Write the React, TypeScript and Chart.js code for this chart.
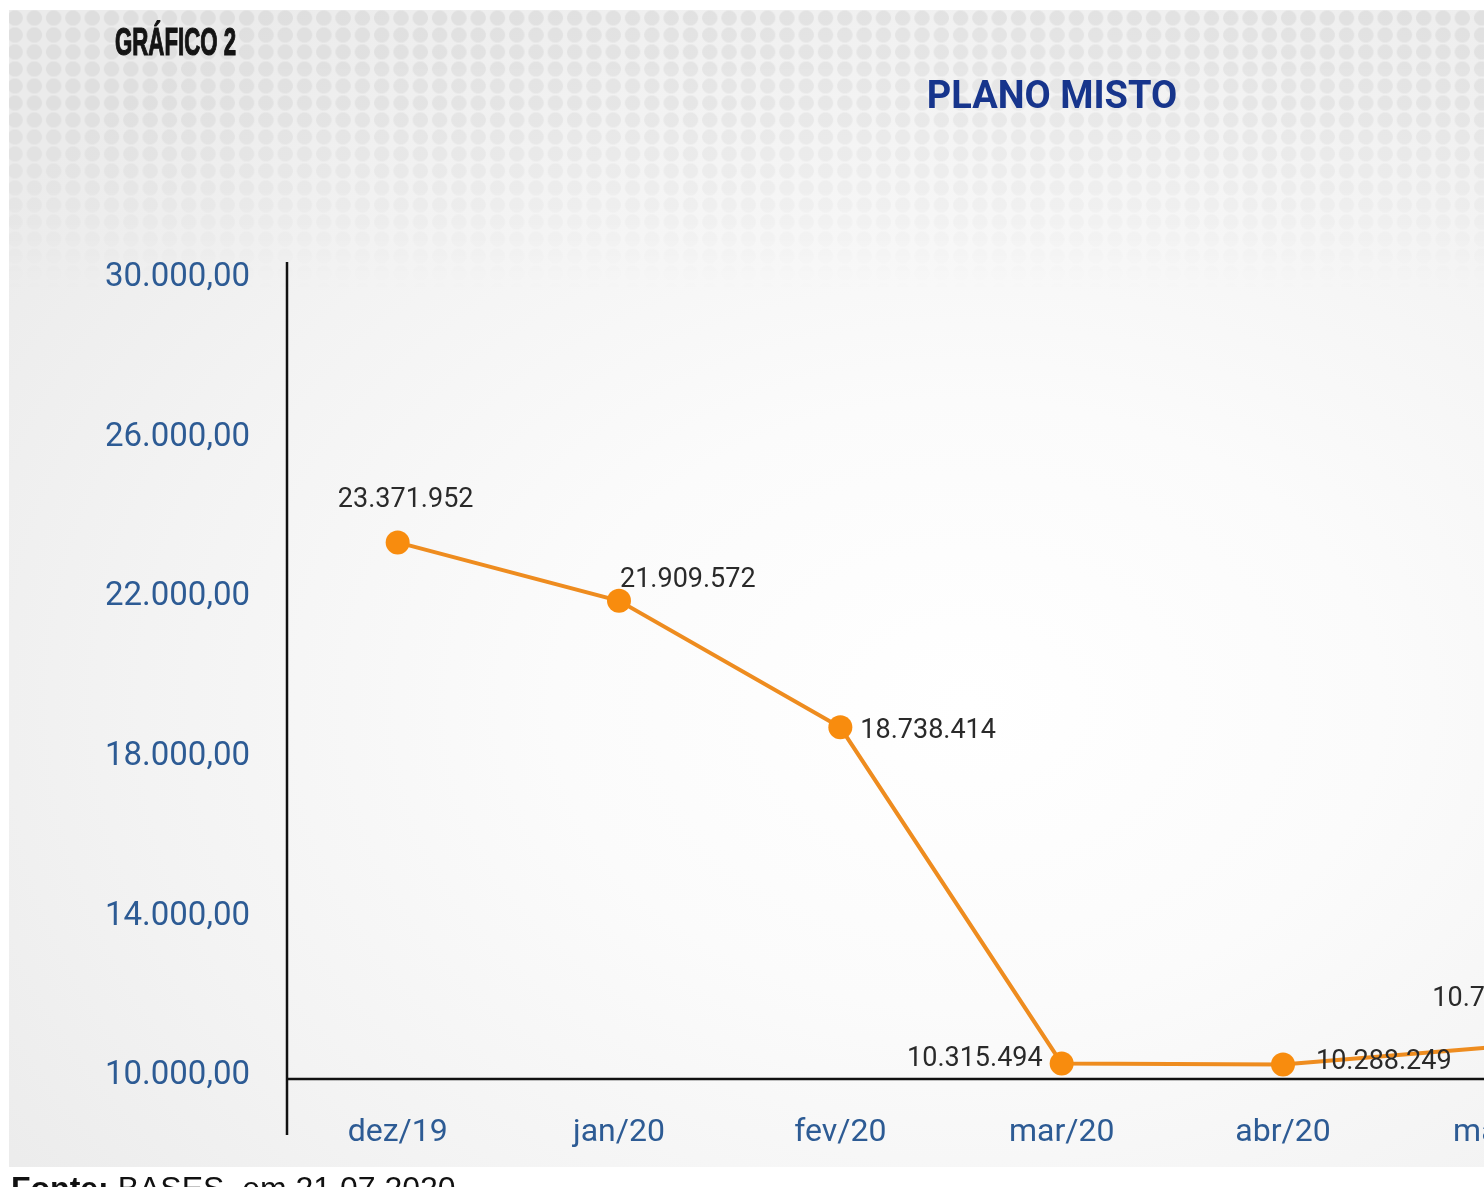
import React, { useEffect, useRef } from "react";
import { Chart, registerables } from "chart.js";

Chart.register(...registerables);

// ---- data ----
const categories = ["dez/19", "jan/20", "fev/20", "mar/20", "abr/20", "mai/20"];
// values in thousands (label shows e.g. 23.371.952)
const planoMistoValues = [23371.952, 21909.572, 18738.414, 10315.494, 10288.249, 10748.12];
const yTickValues = [10000, 14000, 18000, 22000, 26000, 30000];
const figureLabel = "GRÁFICO 2";
const chartTitle = "PLANO MISTO";
const sourceBold = "Fonte:";
const sourceText = " BASES, em 21.07.2020";

const formatPoint = (v: number) =>
  String(Math.round(v * 1000)).replace(/\B(?=(\d{3})+(?!\d))/g, ".");
const formatTick = (v: number) =>
  String(Math.round(v)).replace(/\B(?=(\d{3})+(?!\d))/g, ".") + ",00";

// label placement per point (style only)
const labelPlacement = [
  { align: "center", dx: 8, dy: -42 },
  { align: "left", dx: 1, dy: -21 },
  { align: "left", dx: 20, dy: 4 },
  { align: "right", dx: -19, dy: -4 },
  { align: "left", dx: 33, dy: -2 },
  { align: "left", dx: -72, dy: -47 },
];

const axisLinesPlugin = {
  id: "axisLines",
  beforeDatasetsDraw(chart: any) {
    const { ctx, chartArea } = chart;
    ctx.save();
    ctx.strokeStyle = "#111";
    ctx.lineWidth = 2.5;
    ctx.beginPath();
    ctx.moveTo(chartArea.left, chartArea.top);
    ctx.lineTo(chartArea.left, chartArea.bottom + 56);
    ctx.moveTo(chartArea.left, chartArea.bottom);
    ctx.lineTo(chartArea.right, chartArea.bottom);
    ctx.stroke();
    ctx.restore();
  },
};

const pointLabelsPlugin = {
  id: "pointLabels",
  afterDatasetsDraw(chart: any) {
    const { ctx } = chart;
    const meta = chart.getDatasetMeta(0);
    const data = chart.data.datasets[0].data as number[];
    ctx.save();
    ctx.font = "27px Roboto";
    ctx.fillStyle = "#2a2a2a";
    ctx.textBaseline = "middle";
    meta.data.forEach((el: any, i: number) => {
      const p = labelPlacement[i];
      ctx.textAlign = p.align as CanvasTextAlign;
      ctx.fillText(formatPoint(data[i]), el.x + p.dx, el.y + p.dy);
    });
    ctx.restore();
  },
};

function LineChart() {
  const ref = useRef<HTMLCanvasElement>(null);
  useEffect(() => {
    if (!ref.current) return;
    const chart = new Chart(ref.current, {
      type: "line",
      data: {
        labels: categories,
        datasets: [
          {
            label: chartTitle,
            data: planoMistoValues,
            borderColor: "#EE8C1F",
            borderWidth: 4,
            pointRadius: 12,
            pointBackgroundColor: "#F88C0E",
            pointBorderWidth: 0,
            tension: 0,
            clip: false as any,
          },
        ],
      },
      options: {
        animation: false,
        responsive: false,
        maintainAspectRatio: false,
        layout: { padding: { left: 0, top: 262, right: 0, bottom: 0 } },
        plugins: {
          legend: { display: false },
          tooltip: { enabled: false },
          title: { display: false },
        },
        scales: {
          x: {
            type: "category",
            offset: true,
            grid: { display: false },
            border: { display: false },
            ticks: {
              color: "#2d5b94",
              font: { family: "Roboto", size: 32 },
              padding: 27,
              maxRotation: 0,
              autoSkip: false,
            },
            afterFit: (s: any) => {
              s.height = 108;
            },
          },
          y: {
            min: 9925,
            max: 30400,
            grid: { display: false },
            border: { display: false },
            ticks: {
              color: "#2d5b94",
              font: { family: "Roboto", size: 33 },
              padding: 29,
              callback: (v: any) => formatTick(Number(v)),
            },
            afterBuildTicks: (s: any) => {
              s.ticks = yTickValues.map((v) => ({ value: v }));
            },
            afterFit: (s: any) => {
              s.width = 287;
            },
          },
        },
      },
      plugins: [axisLinesPlugin, pointLabelsPlugin],
    });
    return () => chart.destroy();
  }, []);
  return (
    <canvas
      ref={ref}
      width={1627}
      height={1187}
      style={{ position: "absolute", left: 0, top: 0, width: 1627, height: 1187 }}
    />
  );
}

export default function App() {
  return (
    <div
      style={{
        position: "fixed",
        left: 0,
        top: 0,
        width: 1484,
        height: 1187,
        overflow: "hidden",
        background: "#ffffff",
      }}
    >
      <div
        style={{
          position: "absolute",
          left: 9,
          top: 10,
          width: 1475,
          height: 1157,
          background:
            "radial-gradient(ellipse 80% 75% at 65% 60%, #ffffff 0%, #fbfbfb 35%, #f3f3f3 70%, #ebebeb 100%)",
        }}
      />
      <div
        style={{
          position: "absolute",
          left: 9,
          top: 10,
          width: 1475,
          height: 300,
          backgroundImage:
            "radial-gradient(circle at center, rgba(0,0,0,0.055) 0 7.2px, rgba(0,0,0,0) 8px)",
          backgroundSize: "19.3px 17px",
          backgroundPosition: "-3.6px -0.5px",
          WebkitMaskImage:
            "linear-gradient(to bottom, rgba(0,0,0,1) 0px, rgba(0,0,0,0.8) 110px, rgba(0,0,0,0) 285px)",
          maskImage:
            "linear-gradient(to bottom, rgba(0,0,0,1) 0px, rgba(0,0,0,0.8) 110px, rgba(0,0,0,0) 285px)",
        } as any}
      />
      <LineChart />
      <div
        style={{
          position: "absolute",
          left: 115,
          top: 23,
          fontFamily: "'Liberation Sans Narrow', 'Liberation Sans', sans-serif",
          fontWeight: 700,
          fontSize: 38,
          lineHeight: "38px",
          color: "#141414",
          whiteSpace: "nowrap",
          transform: "scaleX(0.585)",
          transformOrigin: "left top",
          WebkitTextStroke: "1.2px #141414",
        } as any}
      >
        {figureLabel}
      </div>
      <div
        style={{
          position: "absolute",
          left: 1052,
          top: 76,
          transform: "translateX(-50%)",
          fontFamily: "Roboto, sans-serif",
          fontWeight: 700,
          fontSize: 38,
          lineHeight: "38px",
          color: "#17358c",
          whiteSpace: "nowrap",
        }}
      >
        {chartTitle}
      </div>
      <div
        style={{
          position: "absolute",
          left: 11,
          top: 1172,
          fontFamily: "'Liberation Sans', Arial, sans-serif",
          fontSize: 32,
          lineHeight: "32px",
          color: "#111",
          whiteSpace: "nowrap",
        }}
      >
        <b>{sourceBold}</b>
        {sourceText}
      </div>
    </div>
  );
}
